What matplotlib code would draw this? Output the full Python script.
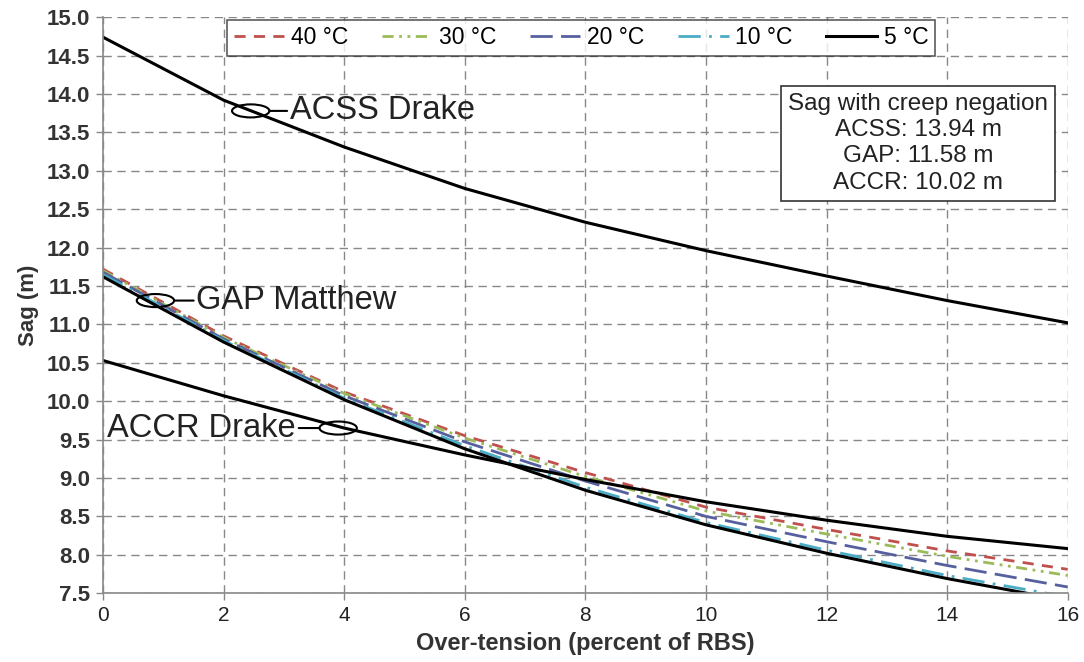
import matplotlib.pyplot as plt
from matplotlib.patches import Ellipse
from matplotlib.ticker import MultipleLocator, FormatStrFormatter

plt.rcParams['font.family'] = ['Liberation Sans', 'DejaVu Sans']

# over-tension, percent of RBS
tension = [0, 2, 4, 6, 8, 10, 12, 14, 16]

# sag (m)
acss_5 = [14.74, 13.92, 13.31, 12.77, 12.33, 11.96, 11.63, 11.31, 11.02]
accr_5 = [10.53, 10.07, 9.65, 9.30, 8.98, 8.69, 8.45, 8.24, 8.08]
gap_40 = [11.72, 10.85, 10.12, 9.55, 9.07, 8.62, 8.33, 8.05, 7.81]
gap_30 = [11.70, 10.83, 10.10, 9.52, 9.02, 8.57, 8.27, 7.98, 7.73]
gap_20 = [11.68, 10.81, 10.07, 9.47, 8.96, 8.50, 8.17, 7.86, 7.58]
gap_10 = [11.65, 10.79, 10.04, 9.42, 8.88, 8.42, 8.06, 7.73, 7.45]
gap_5 = [11.62, 10.77, 10.02, 9.38, 8.84, 8.39, 8.02, 7.69, 7.40]

creep_text = "Sag with creep negation\nACSS: 13.94 m\nGAP: 11.58 m\nACCR: 10.02 m"

fig = plt.figure(figsize=(10.84, 6.62), dpi=100)
ax = fig.add_axes([0.095, 0.104, 0.890, 0.870])

ax.plot(tension, gap_40, color='#C0504D', lw=2.0, ls=(0, (4, 3)), label='40 °C')
ax.plot(tension, gap_30, color='#9BBB59', lw=2.0, ls=(0, (4, 2, 1, 2, 1, 2)), label='30 °C')
ax.plot(tension, gap_20, color='#56609E', lw=2.0, ls=(0, (8, 3)), label='20 °C')
ax.plot(tension, gap_10, color='#4BACC6', lw=2.0, ls=(0, (8, 3, 1, 3)), label='10 °C')
ax.plot(tension, gap_5, color='black', lw=2.2, label='5 °C')
ax.plot(tension, acss_5, color='black', lw=2.2)
ax.plot(tension, accr_5, color='black', lw=2.2)

ax.set_xlim(0, 16)
ax.set_ylim(7.5, 15.0)
ax.xaxis.set_major_locator(MultipleLocator(2))
ax.yaxis.set_major_locator(MultipleLocator(0.5))
ax.yaxis.set_major_formatter(FormatStrFormatter('%.1f'))
ax.tick_params(length=5, width=1.0, color='#888888', pad=4)
ax.tick_params(axis='x', labelsize=15)
ax.tick_params(axis='y', labelsize=16)
for lab in ax.get_yticklabels():
    lab.set_fontweight('bold')
    lab.set_color('#333333')
for lab in ax.get_xticklabels():
    lab.set_color('#222222')

ax.grid(color='#888888', ls=(0, (6, 4)), lw=1.0)
for side in ['top', 'right']:
    ax.spines[side].set_visible(False)
for side in ['left', 'bottom']:
    ax.spines[side].set_color('#888888')
    ax.spines[side].set_linewidth(1.2)

ax.set_xlabel('Over-tension (percent of RBS)', fontsize=17, fontweight='bold', color='#333333', labelpad=5)
ax.set_ylabel('Sag (m)', fontsize=16, fontweight='bold', color='#333333', labelpad=6)

# callouts
for (cx, cy), txt, tx, ha in [((2.45, 13.78), 'ACSS Drake', 3.1, 'left'),
                              ((0.87, 11.31), 'GAP Matthew', 1.55, 'left'),
                              ((3.9, 9.65), 'ACCR Drake', 3.2, 'right')]:
    ax.add_patch(Ellipse((cx, cy), 0.62, 0.17, fill=False, ec='black', lw=1.5, zorder=5))
    edge = cx + 0.31 if ha == 'left' else cx - 0.31
    ax.annotate(txt, xy=(edge, cy), xytext=(tx, cy), ha=ha, va='center',
                fontsize=23.5, color='#222222',
                arrowprops=dict(arrowstyle='-', color='black', lw=1.5,
                                shrinkA=0, shrinkB=0))

ax.text(0.845, 0.781, creep_text, transform=ax.transAxes, ha='center', va='center',
        fontsize=17.5, color='#222222', linespacing=1.25,
        bbox=dict(boxstyle='square,pad=0.3', fc='white', ec='#333333', lw=1.2))

leg = ax.legend(loc='upper left', bbox_to_anchor=(0.126, 1.0, 0.739, 0.0), mode='expand',
                ncol=5, fontsize=16.5, frameon=True, fancybox=False, handlelength=2.2,
                borderpad=0.3, handletextpad=0.3, borderaxespad=0.1)
leg.get_frame().set_edgecolor('#333333')
leg.get_frame().set_linewidth(1.2)

fig.savefig('out.png', dpi=100)
